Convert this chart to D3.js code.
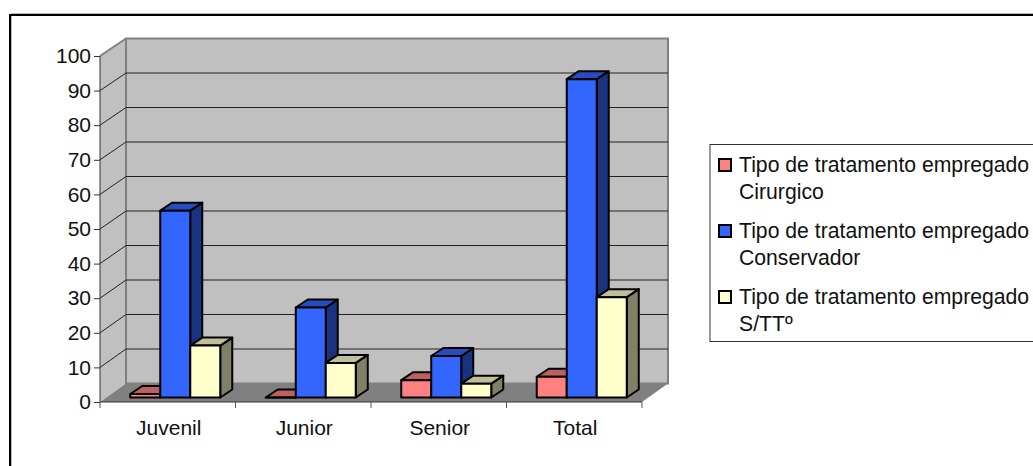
<!DOCTYPE html>
<html>
<head>
<meta charset="utf-8">
<script src="https://cdn.jsdelivr.net/npm/d3@7"></script>
<style>
  html, body { margin: 0; padding: 0; background: #fff; overflow: hidden; }
  text { font-family: "Liberation Sans", Arial, sans-serif; fill: #111; }
</style>
</head>
<body>
<div id="chart"></div>
<script>
var categories = ["Juvenil", "Junior", "Senior", "Total"];
var cirurgico = [1, 0, 5, 6];
var conservador = [54, 26, 12, 92];
var semTratamento = [15, 10, 4, 29];
var yTicks = [0, 10, 20, 30, 40, 50, 60, 70, 80, 90, 100];
var seriesNames = ["Cirurgico", "Conservador", "S/TTº"];
var legendPrefix = "Tipo de tratamento empregado";

var series = [
    { name: seriesNames[0], values: cirurgico, front: "#ff8080", top: "#bf6060", side: "#804040" },
    { name: seriesNames[1], values: conservador, front: "#3366ff", top: "#264cbf", side: "#1a3380" },
    { name: seriesNames[2], values: semTratamento, front: "#ffffcc", top: "#bfbf99", side: "#808066" }
];

var svg = d3.select("#chart").append("svg")
    .attr("width", 1033)
    .attr("height", 466)
    .style("display", "block");

// outer frame, black with a thin grey line along it
svg.append("path")
    .attr("d", "M11.5,500V13.5H1040")
    .attr("fill", "none").attr("stroke", "#b8b8b8").attr("stroke-width", 1);
svg.append("rect")
    .attr("x", 10).attr("y", 15)
    .attr("width", 1100).attr("height", 500)
    .attr("fill", "none").attr("stroke", "#000").attr("stroke-width", 2);

// front edge scales, the walls sit behind them by depth
var x = d3.scaleBand().domain(categories).range([100, 642]);
var y = d3.scaleLinear().domain([0, 100]).range([402, 56]);
var yBack = d3.scaleLinear().domain([0, 100]).range([383.5, 38.5]);
var depthX = 26;
var barDepth = { x: 12, y: -8 };
var barShift = { x: 7.5, y: -4.5 };
var barWidth = 30;
var inner = d3.scaleBand().domain(d3.range(series.length))
    .range([-barWidth * 1.5, barWidth * 1.5]);

function poly(points) {
    return d3.line()(points) + "Z";
}

var x0 = x.range()[0], x1 = x.range()[1];
var y0 = y(0), y100 = y(100);
var walls = svg.append("g");

// side wall
walls.append("path")
    .attr("d", poly([[x0, y0], [x0, y100], [x0 + depthX, yBack(100)], [x0 + depthX, yBack(0)]]))
    .attr("fill", "#c0c0c0");
// floor
walls.append("path")
    .attr("d", poly([[x0, y0], [x1, y0], [x1 + depthX, yBack(0)], [x0 + depthX, yBack(0)]]))
    .attr("fill", "#808080");
// back wall
walls.append("rect")
    .attr("x", x0 + depthX).attr("y", yBack(100))
    .attr("width", x1 - x0).attr("height", yBack(0) - yBack(100))
    .attr("fill", "#c0c0c0")
    .attr("stroke", "#808080").attr("stroke-width", 2);
walls.append("path")
    .attr("d", d3.line()([[x0, y100], [x0 + depthX, yBack(100)]]))
    .attr("stroke", "#808080").attr("stroke-width", 2).attr("fill", "none");

// gridlines, running along the side wall and across the back wall
var grid = svg.append("g").attr("fill", "none").attr("stroke", "#222").attr("stroke-width", 1);
yTicks.filter(function (t) { return t > 0 && t < 100; }).forEach(function (t) {
    grid.append("path")
        .attr("d", d3.line()([
            [x0, y(t)],
            [x0 + depthX, yBack(t)],
            [x1 + depthX, yBack(t)]
        ]));
});

// bars
series.forEach(function (s, si) {
    categories.forEach(function (c, ci) {
        var v = s.values[ci];
        var left = x(c) + x.bandwidth() / 2 + inner(si) + barShift.x;
        var right = left + inner.bandwidth();
        var bottom = y(0) + barShift.y;
        var top = y(v) + barShift.y;
        var g = svg.append("g")
            .attr("stroke", "#000").attr("stroke-width", 2).attr("stroke-linejoin", "round");
        g.append("path")
            .attr("fill", s.side)
            .attr("d", poly([[right, bottom], [right, top], [right + barDepth.x, top + barDepth.y], [right + barDepth.x, bottom + barDepth.y]]));
        g.append("path")
            .attr("fill", s.top)
            .attr("d", poly([[left, top], [right, top], [right + barDepth.x, top + barDepth.y], [left + barDepth.x, top + barDepth.y]]));
        g.append("path")
            .attr("fill", s.front)
            .attr("d", poly([[left, bottom], [right, bottom], [right, top], [left, top]]));
    });
});

// axes
var yAxis = svg.append("g")
    .attr("transform", "translate(" + x0 + ",0)")
    .call(d3.axisLeft(y).tickValues(yTicks).tickSize(6).tickPadding(3));
yAxis.selectAll("text").style("font-size", "21px");
yAxis.select(".domain").attr("stroke", "#333").attr("d", "M0," + y100 + "V" + y0);
yAxis.selectAll("line").attr("stroke", "#333");

var xAxis = svg.append("g")
    .attr("transform", "translate(0," + y0 + ")")
    .call(d3.axisBottom(x).tickSizeOuter(0).tickSize(0).tickPadding(18));
xAxis.selectAll("text").style("font-size", "21px").attr("dx", 1);
xAxis.select(".domain").attr("stroke", "#333").attr("d", "M" + x0 + ",0H" + x1);
var edgeTicks = categories.map(function (c) { return x(c); }).concat([x1]);
xAxis.selectAll(".edge").data(edgeTicks).enter().append("line")
    .attr("class", "edge")
    .attr("x1", function (d) { return d; }).attr("x2", function (d) { return d; })
    .attr("y1", 0).attr("y2", 6)
    .attr("stroke", "#555");

// legend
var legend = svg.append("g");
legend.append("rect")
    .attr("x", 710).attr("y", 144.5)
    .attr("width", 340).attr("height", 197)
    .attr("fill", "#fff").attr("stroke", "#333").attr("stroke-width", 1);

var rows = legend.selectAll(".row").data(series).enter().append("g")
    .attr("class", "row")
    .attr("transform", function (d, i) { return "translate(0," + (i * 66) + ")"; });
rows.append("rect")
    .attr("x", 719).attr("y", 159)
    .attr("width", 12).attr("height", 12)
    .attr("fill", function (d) { return d.front; })
    .attr("stroke", "#000").attr("stroke-width", 2);
rows.append("text")
    .attr("x", 739).attr("y", 171.5)
    .style("font-size", "21.2px")
    .text(legendPrefix);
rows.append("text")
    .attr("x", 739).attr("y", 199)
    .style("font-size", "21.2px")
    .text(function (d) { return d.name; });
</script>
</body>
</html>
